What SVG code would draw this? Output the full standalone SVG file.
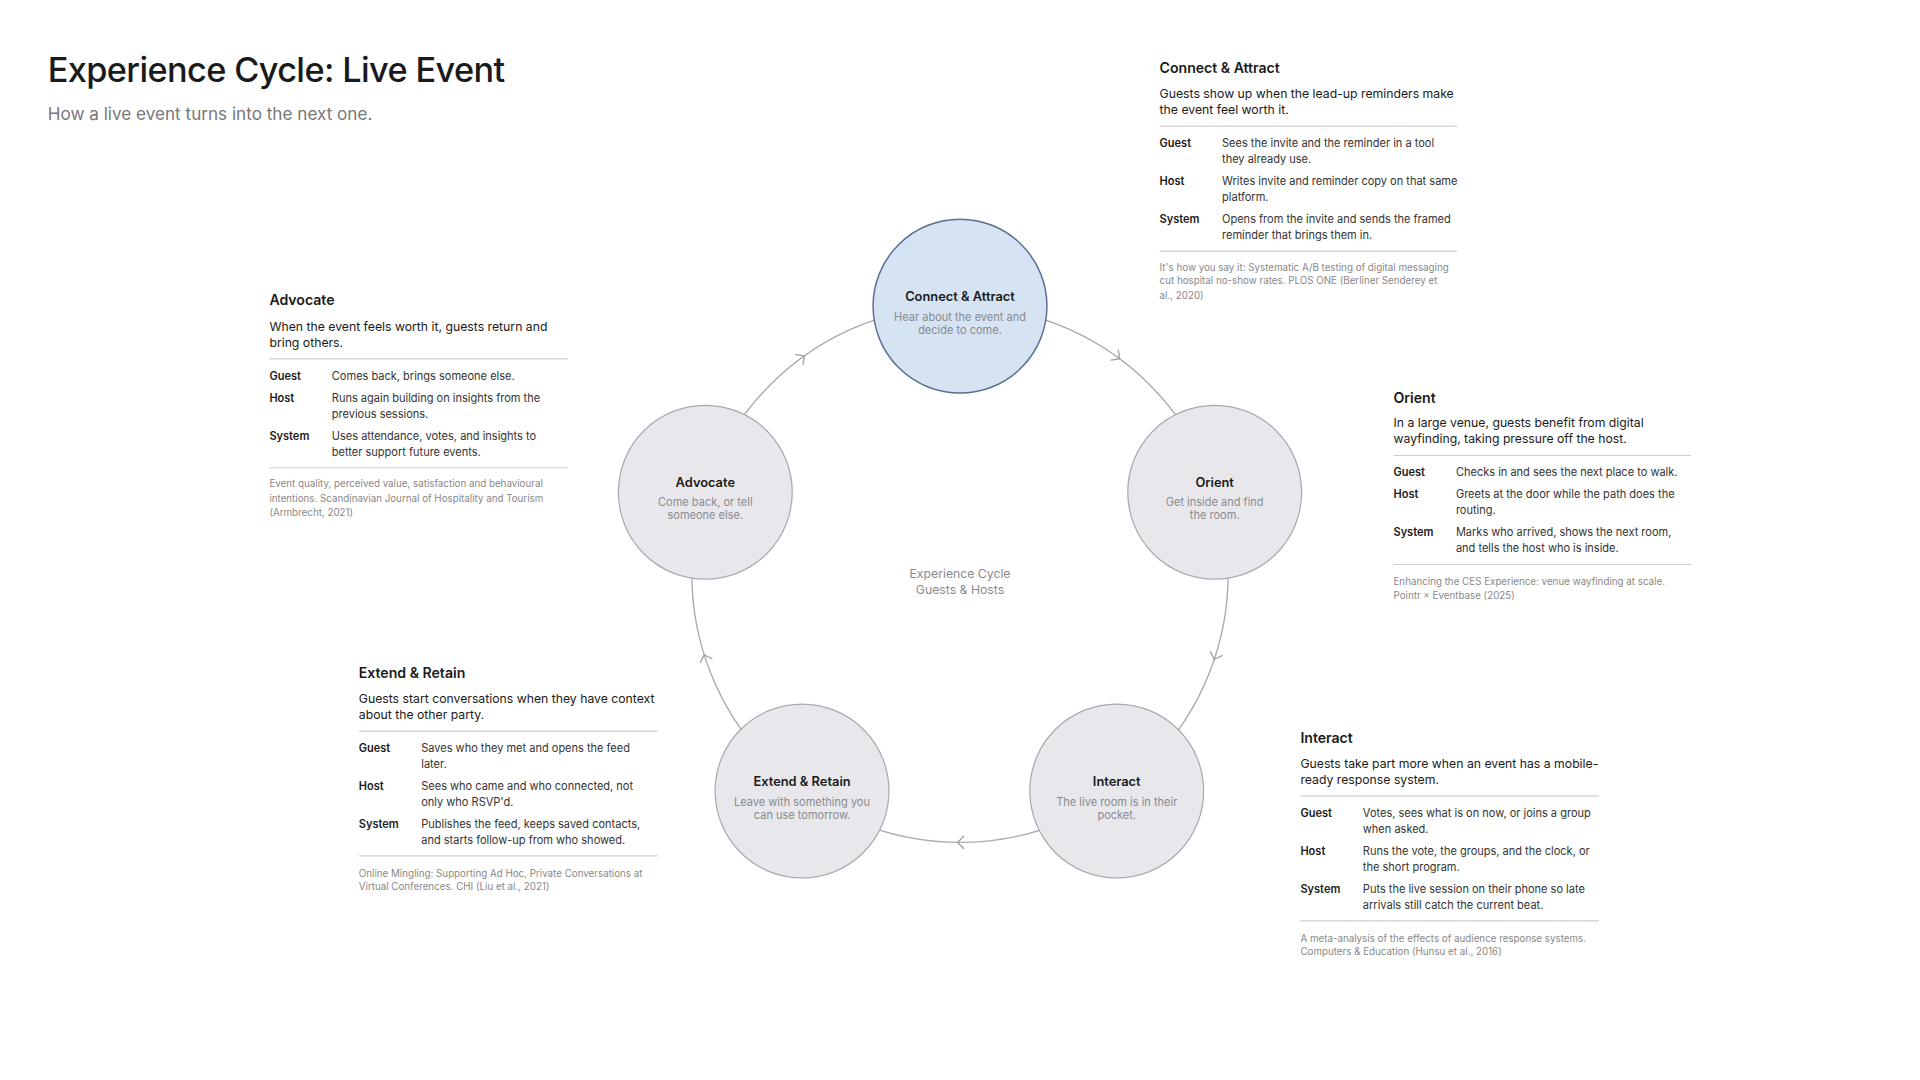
<svg xmlns="http://www.w3.org/2000/svg" width="1920" height="1080" viewBox="0 0 1920 1080">
<style>
text{font-family:Inter,"Liberation Sans",sans-serif;fill:#1a1a1a}
.title{font-size:28px;font-weight:500;letter-spacing:-0.5px}
.sub{font-size:14px;fill:#777}
.h{font-size:11.5px;font-weight:600}
.d{font-size:10px}
.k{font-size:9px;font-weight:600}
.v{font-size:9px;fill:#333}
.c{font-size:8px;fill:#888}
.rule{stroke:#cfcfcf;stroke-width:1}
.node{fill:#e8e8ec;stroke:#a9a9b0;stroke-width:1}
.nodeA{fill:#d6e3f3;stroke:#5b6f93;stroke-width:1.2}
.nt{font-size:10.5px;font-weight:600;text-anchor:middle}
.ns{font-size:9px;fill:#8a8a8f;text-anchor:middle}
.ring{fill:none;stroke:#a9a9ae;stroke-width:1.1}
.chev{fill:none;stroke:#a0a0a6;stroke-width:1.1;stroke-linecap:round;stroke-linejoin:round}
</style>
<rect width="1920" height="1080" fill="#fff"/>
<g transform="scale(1.22449)">
<text class="title" x="39" y="67">Experience Cycle: Live Event</text>
<text class="sub" x="39" y="98">How a live event turns into the next one.</text>

<g id="connectors">
<circle class="ring" cx="784" cy="469" r="219"/>
<g transform="translate(784,469)">
<path class="chev" transform="rotate(-54) translate(219,0) rotate(90)" d="M-3,-5 L2,0 L-3,5"/>
<path class="chev" transform="rotate(18) translate(219,0) rotate(90)" d="M-3,-5 L2,0 L-3,5"/>
<path class="chev" transform="rotate(90) translate(219,0) rotate(90)" d="M-3,-5 L2,0 L-3,5"/>
<path class="chev" transform="rotate(162) translate(219,0) rotate(90)" d="M-3,-5 L2,0 L-3,5"/>
<path class="chev" transform="rotate(234) translate(219,0) rotate(90)" d="M-3,-5 L2,0 L-3,5"/>
</g>
</g>

<g id="center-label">
<text class="ns" x="784" y="472" style="font-size:10px">Experience Cycle</text>
<text class="ns" x="784" y="485" style="font-size:10px">Guests &amp; Hosts</text>
</g>

<g id="node-connect">
<circle class="nodeA" cx="784" cy="250" r="71"/>
<text class="nt" x="784" y="246">Connect &amp; Attract</text>
<text class="ns" x="784" y="262">Hear about the event and</text>
<text class="ns" x="784" y="273">decide to come.</text>
</g>
<g id="node-orient">
<circle class="node" cx="992" cy="402" r="71"/>
<text class="nt" x="992" y="398">Orient</text>
<text class="ns" x="992" y="413">Get inside and find</text>
<text class="ns" x="992" y="424">the room.</text>
</g>
<g id="node-interact">
<circle class="node" cx="912" cy="646" r="71"/>
<text class="nt" x="912" y="642">Interact</text>
<text class="ns" x="912" y="658">The live room is in their</text>
<text class="ns" x="912" y="669">pocket.</text>
</g>
<g id="node-extend">
<circle class="node" cx="655" cy="646" r="71"/>
<text class="nt" x="655" y="642">Extend &amp; Retain</text>
<text class="ns" x="655" y="658">Leave with something you</text>
<text class="ns" x="655" y="669">can use tomorrow.</text>
</g>
<g id="node-advocate">
<circle class="node" cx="576" cy="402" r="71"/>
<text class="nt" x="576" y="398">Advocate</text>
<text class="ns" x="576" y="413">Come back, or tell</text>
<text class="ns" x="576" y="424">someone else.</text>
</g>

<g id="panel-connect" transform="translate(947,0)">
<text class="h" x="0" y="60">Connect &amp; Attract</text>
<text class="d" x="0" y="80">Guests show up when the lead-up reminders make</text>
<text class="d" x="0" y="93">the event feel worth it.</text>
<line class="rule" x1="0" y1="103" x2="243" y2="103"/>
<text class="k" x="0" y="120">Guest</text><text class="v" x="51" y="120">Sees the invite and the reminder in a tool</text><text class="v" x="51" y="133">they already use.</text>
<text class="k" x="0" y="151">Host</text><text class="v" x="51" y="151">Writes invite and reminder copy on that same</text><text class="v" x="51" y="164">platform.</text>
<text class="k" x="0" y="182">System</text><text class="v" x="51" y="182">Opens from the invite and sends the framed</text><text class="v" x="51" y="195">reminder that brings them in.</text>
<line class="rule" x1="0" y1="205" x2="243" y2="205"/>
<text class="c" x="0" y="221">It's how you say it: Systematic A/B testing of digital messaging</text>
<text class="c" x="0" y="232">cut hospital no-show rates. PLOS ONE (Berliner Senderey et</text>
<text class="c" x="0" y="244">al., 2020)</text>
</g>

<g id="panel-advocate" transform="translate(220,0)">
<text class="h" x="0" y="249">Advocate</text>
<text class="d" x="0" y="270">When the event feels worth it, guests return and</text>
<text class="d" x="0" y="283">bring others.</text>
<line class="rule" x1="0" y1="293" x2="244" y2="293"/>
<text class="k" x="0" y="310">Guest</text><text class="v" x="51" y="310">Comes back, brings someone else.</text>
<text class="k" x="0" y="328">Host</text><text class="v" x="51" y="328">Runs again building on insights from the</text><text class="v" x="51" y="341">previous sessions.</text>
<text class="k" x="0" y="359">System</text><text class="v" x="51" y="359">Uses attendance, votes, and insights to</text><text class="v" x="51" y="372">better support future events.</text>
<line class="rule" x1="0" y1="382" x2="244" y2="382"/>
<text class="c" x="0" y="398">Event quality, perceived value, satisfaction and behavioural</text>
<text class="c" x="0" y="410">intentions. Scandinavian Journal of Hospitality and Tourism</text>
<text class="c" x="0" y="421">(Armbrecht, 2021)</text>
</g>

<g id="panel-orient" transform="translate(1138,0)">
<text class="h" x="0" y="329">Orient</text>
<text class="d" x="0" y="349">In a large venue, guests benefit from digital</text>
<text class="d" x="0" y="362">wayfinding, taking pressure off the host.</text>
<line class="rule" x1="0" y1="372" x2="243" y2="372"/>
<text class="k" x="0" y="389">Guest</text><text class="v" x="51" y="389">Checks in and sees the next place to walk.</text>
<text class="k" x="0" y="407">Host</text><text class="v" x="51" y="407">Greets at the door while the path does the</text><text class="v" x="51" y="420">routing.</text>
<text class="k" x="0" y="438">System</text><text class="v" x="51" y="438">Marks who arrived, shows the next room,</text><text class="v" x="51" y="451">and tells the host who is inside.</text>
<line class="rule" x1="0" y1="461" x2="243" y2="461"/>
<text class="c" x="0" y="478">Enhancing the CES Experience: venue wayfinding at scale.</text>
<text class="c" x="0" y="489">Pointr × Eventbase (2025)</text>
</g>

<g id="panel-extend" transform="translate(293,0)">
<text class="h" x="0" y="554">Extend &amp; Retain</text>
<text class="d" x="0" y="574">Guests start conversations when they have context</text>
<text class="d" x="0" y="587">about the other party.</text>
<line class="rule" x1="0" y1="597" x2="244" y2="597"/>
<text class="k" x="0" y="614">Guest</text><text class="v" x="51" y="614">Saves who they met and opens the feed</text><text class="v" x="51" y="627">later.</text>
<text class="k" x="0" y="645">Host</text><text class="v" x="51" y="645">Sees who came and who connected, not</text><text class="v" x="51" y="658">only who RSVP'd.</text>
<text class="k" x="0" y="676">System</text><text class="v" x="51" y="676">Publishes the feed, keeps saved contacts,</text><text class="v" x="51" y="689">and starts follow-up from who showed.</text>
<line class="rule" x1="0" y1="699" x2="244" y2="699"/>
<text class="c" x="0" y="716">Online Mingling: Supporting Ad Hoc, Private Conversations at</text>
<text class="c" x="0" y="727">Virtual Conferences. CHI (Liu et al., 2021)</text>
</g>

<g id="panel-interact" transform="translate(1062,0)">
<text class="h" x="0" y="607">Interact</text>
<text class="d" x="0" y="627">Guests take part more when an event has a mobile-</text>
<text class="d" x="0" y="640">ready response system.</text>
<line class="rule" x1="0" y1="650" x2="244" y2="650"/>
<text class="k" x="0" y="667">Guest</text><text class="v" x="51" y="667">Votes, sees what is on now, or joins a group</text><text class="v" x="51" y="680">when asked.</text>
<text class="k" x="0" y="698">Host</text><text class="v" x="51" y="698">Runs the vote, the groups, and the clock, or</text><text class="v" x="51" y="711">the short program.</text>
<text class="k" x="0" y="729">System</text><text class="v" x="51" y="729">Puts the live session on their phone so late</text><text class="v" x="51" y="742">arrivals still catch the current beat.</text>
<line class="rule" x1="0" y1="752" x2="244" y2="752"/>
<text class="c" x="0" y="769">A meta-analysis of the effects of audience response systems.</text>
<text class="c" x="0" y="780">Computers &amp; Education (Hunsu et al., 2016)</text>
</g>
</g>
</svg>
